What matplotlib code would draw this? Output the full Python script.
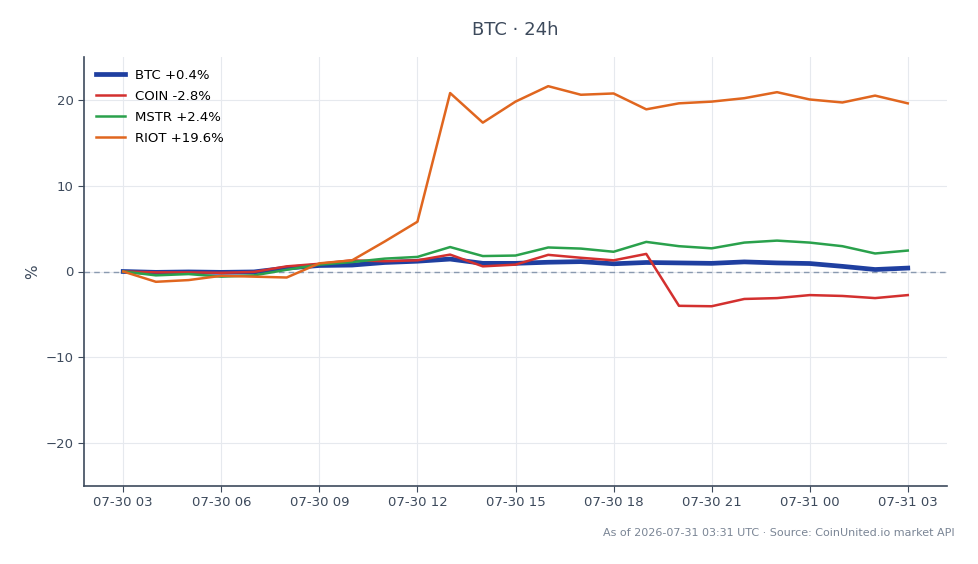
import matplotlib
matplotlib.use("Agg")
import matplotlib.pyplot as plt
import matplotlib.dates as mdates
import pandas as pd

times = pd.date_range("2026-07-30 03:00", "2026-07-31 03:00", freq="h")

btc = [0.0, -0.1, -0.05, -0.1, -0.05, 0.4, 0.7, 0.75, 1.05, 1.2, 1.45, 0.95,
       0.95, 1.08, 1.15, 0.9, 1.05, 1.0, 0.95, 1.12, 1.0, 0.93, 0.6, 0.23, 0.4]
coin = [0.0, -0.1, -0.1, -0.15, -0.05, 0.6, 0.9, 1.3, 1.2, 1.3, 1.97, 0.6,
        0.8, 1.94, 1.6, 1.3, 2.05, -4.0, -4.05, -3.2, -3.1, -2.75, -2.85, -3.1, -2.75]
mstr = [0.0, -0.45, -0.3, -0.6, -0.45, 0.2, 0.8, 1.1, 1.5, 1.7, 2.85, 1.8,
        1.86, 2.8, 2.67, 2.3, 3.45, 2.95, 2.7, 3.37, 3.6, 3.37, 2.95, 2.1, 2.44]
riot = [0.0, -1.2, -1.0, -0.5, -0.6, -0.7, 0.95, 1.3, 3.5, 5.8, 20.8, 17.35,
        19.8, 21.6, 20.6, 20.75, 18.9, 19.6, 19.8, 20.2, 20.9, 20.05, 19.7, 20.5, 19.6]

series = [
    ("BTC +0.4%", btc, "#1f3fa0", 3.4),
    ("COIN -2.8%", coin, "#d3302f", 1.8),
    ("MSTR +2.4%", mstr, "#2aa14c", 1.8),
    ("RIOT +19.6%", riot, "#e0661f", 1.8),
]

fig = plt.figure(figsize=(9.79, 5.64), dpi=100)
ax = fig.add_axes([84/979, 1-486/564, (947-84)/979, (486-57)/564])

ax.axhline(0, color="#8a9ab0", lw=1.0, ls=(0, (4, 3)), zorder=1)
for label, vals, color, lw in series:
    ax.plot(times, vals, color=color, lw=lw, label=label, zorder=3)

ax.set_ylim(-25, 25)
ax.set_yticks([-20, -10, 0, 10, 20])
ax.xaxis.set_major_locator(mdates.HourLocator(byhour=[0, 3, 6, 9, 12, 15, 18, 21]))
ax.xaxis.set_major_formatter(mdates.DateFormatter("%m-%d %H"))

ax.grid(True, color="#e6e9ee", lw=0.8)
ax.set_axisbelow(True)
for s in ["top", "right"]:
    ax.spines[s].set_visible(False)
for s in ["left", "bottom"]:
    ax.spines[s].set_color("#3d4a5c")
    ax.spines[s].set_linewidth(1.2)
ax.tick_params(colors="#3d4a5c", labelsize=9.5, length=4)
ax.set_ylabel("%", color="#3d4a5c", fontsize=11)

ax.set_title("BTC · 24h", color="#3d4a5c", fontsize=13, pad=16)

leg = ax.legend(loc="upper left", frameon=False, fontsize=9.5, handlelength=2.2,
                borderaxespad=0.5, labelspacing=0.6)

fig.text(955/979, 1-533/564, "As of 2026-07-31 03:31 UTC · Source: CoinUnited.io market API",
         ha="right", va="center", fontsize=8, color="#7a8595")

fig.savefig("out.png", dpi=100)
